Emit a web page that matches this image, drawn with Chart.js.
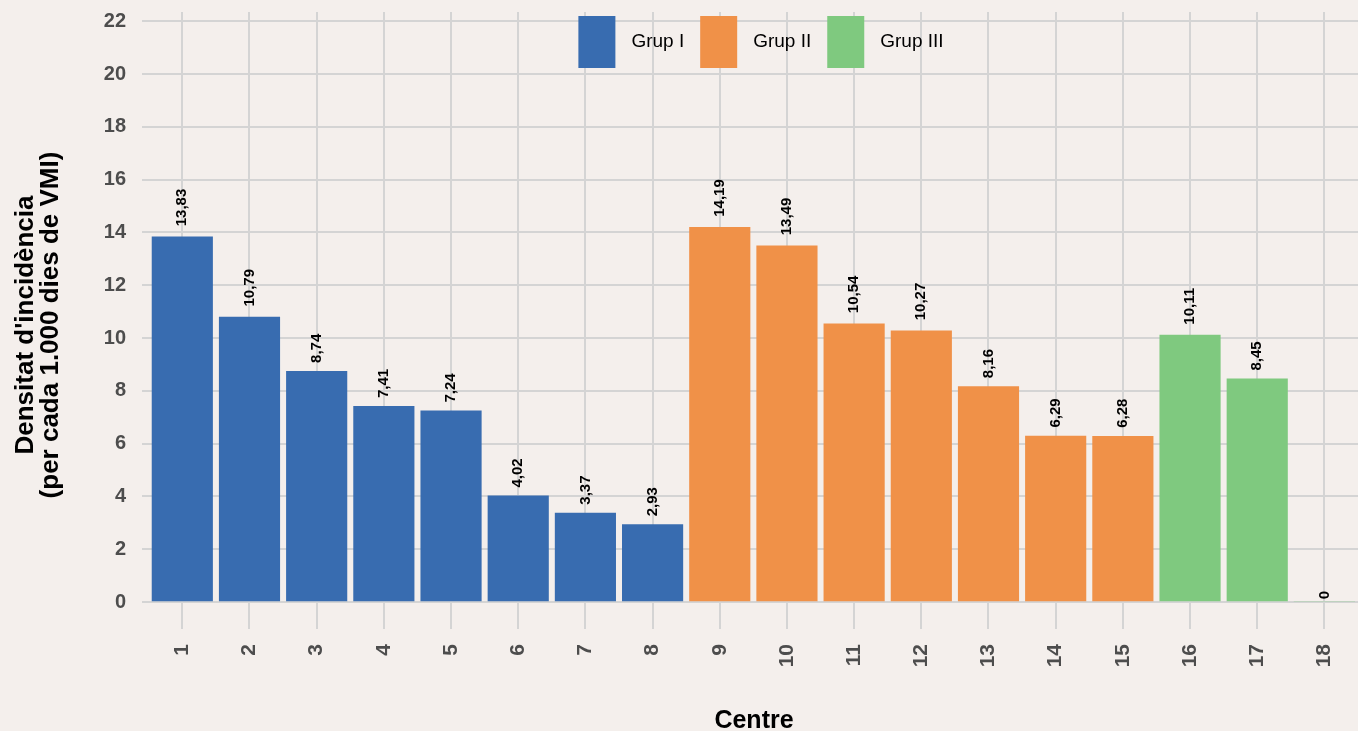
<!DOCTYPE html>
<html lang="ca">
<head>
  <meta charset="UTF-8" />
  <title>Densitat d'incidència per centre</title>
  <script src="https://cdn.jsdelivr.net/npm/chart.js"></script>
  <style>
    html, body { margin: 0; padding: 0; background: #f4efec; }
    #wrap { width: 1358px; height: 731px; position: relative; }
  </style>
</head>
<body>
  <div id="wrap"><canvas id="chart"></canvas></div>

  <script>
    // dades llegides del gràfic
    const centres = [1, 2, 3, 4, 5, 6, 7, 8, 9, 10, 11, 12, 13, 14, 15, 16, 17, 18];
    const densitat = [13.83, 10.79, 8.74, 7.41, 7.24, 4.02, 3.37, 2.93, 14.19, 13.49, 10.54, 10.27, 8.16, 6.29, 6.28, 10.11, 8.45, 0];
    const grupCentre = ['Grup I', 'Grup I', 'Grup I', 'Grup I', 'Grup I', 'Grup I', 'Grup I', 'Grup I',
                        'Grup II', 'Grup II', 'Grup II', 'Grup II', 'Grup II', 'Grup II', 'Grup II',
                        'Grup III', 'Grup III', 'Grup III'];
    const grups = ['Grup I', 'Grup II', 'Grup III'];
    const yTicks = [0, 2, 4, 6, 8, 10, 12, 14, 16, 18, 20, 22];

    const colors = { 'Grup I': '#386cb0', 'Grup II': '#f09148', 'Grup III': '#7fc97f' };
    const gridColor = '#d4d4d4';
    const tickColor = '#4d4d4d';

    const datasets = grups.map(g => ({
      label: g,
      data: centres
        .map((c, i) => ({ x: c, y: densitat[i], g: grupCentre[i] }))
        .filter(p => p.g === g),
      backgroundColor: colors[g],
      borderWidth: 0,
      barThickness: 60.5,
      grouped: false
    }));

    const fmt = v => String(v).replace('.', ',');

    // etiquetes de valor girades sobre cada barra
    const valueLabels = {
      id: 'valueLabels',
      afterDatasetsDraw(chart) {
        const ctx = chart.ctx;
        ctx.save();
        ctx.font = 'bold 15px "Liberation Sans", Arial, sans-serif';
        ctx.fillStyle = '#000';
        ctx.textAlign = 'left';
        ctx.textBaseline = 'middle';
        chart.data.datasets.forEach((ds, di) => {
          chart.getDatasetMeta(di).data.forEach((bar, i) => {
            const txt = fmt(ds.data[i].y);
            const w = ctx.measureText(txt).width;
            ctx.save();
            ctx.translate(bar.x, bar.y - 0.27 * w - 0.5);
            ctx.rotate(-Math.PI / 2);
            ctx.fillText(txt, 0, 0);
            ctx.restore();
          });
        });
        ctx.restore();
      }
    };

    // llegenda i títols d'eixos
    const extras = {
      id: 'extras',
      afterDraw(chart) {
        const ctx = chart.ctx;
        ctx.save();

        // llegenda dins del panell
        ctx.font = '19px "Liberation Sans", Arial, sans-serif';
        const boxW = 37, boxH = 52, gap = 16;
        const items = chart.data.datasets.map(ds => ({ label: ds.label, color: ds.backgroundColor, w: ctx.measureText(ds.label).width }));
        const total = items.reduce((s, it) => s + boxW + gap + it.w, 0) + gap * (items.length - 1);
        let x = 761 - total / 2;
        items.forEach(it => {
          ctx.fillStyle = it.color;
          ctx.fillRect(x, 16, boxW, boxH);
          ctx.fillStyle = '#000';
          ctx.textAlign = 'left';
          ctx.textBaseline = 'middle';
          ctx.fillText(it.label, x + boxW + gap, 42);
          x += boxW + gap + it.w + gap;
        });

        // títol eix y
        ctx.fillStyle = '#000';
        ctx.font = 'bold 26px "Liberation Sans", Arial, sans-serif';
        ctx.textAlign = 'center';
        ctx.textBaseline = 'alphabetic';
        [["Densitat d'incidència", 33], ['(per cada 1.000 dies de VMI)', 58]].forEach(([t, bx]) => {
          ctx.save();
          ctx.translate(bx, 325);
          ctx.rotate(-Math.PI / 2);
          ctx.fillText(t, 0, 0);
          ctx.restore();
        });

        // títol eix x
        ctx.font = 'bold 25px "Liberation Sans", Arial, sans-serif';
        ctx.fillText('Centre', 754, 728);
        ctx.restore();
      }
    };

    new Chart(document.getElementById('chart'), {
      type: 'bar',
      data: { datasets },
      options: {
        responsive: true,
        maintainAspectRatio: false,
        animation: false,
        layout: { padding: { top: 12, left: 0, right: 0, bottom: 0 } },
        plugins: {
          legend: { display: false },
          tooltip: { enabled: false }
        },
        scales: {
          x: {
            type: 'linear',
            min: 0.4,
            max: 18.5,
            offset: false,
            afterFit: s => { s.height = 129; s.paddingLeft = 0; s.paddingRight = 0; },
            afterBuildTicks: s => { s.ticks = centres.map(v => ({ value: v })); },
            border: { display: false },
            grid: { color: gridColor, lineWidth: 2, tickLength: 27, drawTicks: true, offset: false },
            ticks: {
              autoSkip: false,
              minRotation: 90,
              maxRotation: 90,
              padding: 15,
              color: tickColor,
              font: { family: '"Liberation Sans", Arial, sans-serif', size: 21, weight: 'bold' },
              callback: v => String(v)
            }
          },
          y: {
            min: 0,
            max: 22.35,
            afterFit: s => { s.width = 142; s.paddingTop = 0; s.paddingBottom = 0; },
            afterBuildTicks: s => { s.ticks = yTicks.map(v => ({ value: v })); },
            border: { display: false },
            grid: { color: gridColor, lineWidth: 2, drawTicks: false },
            ticks: {
              padding: 16,
              color: tickColor,
              font: { family: '"Liberation Sans", Arial, sans-serif', size: 20, weight: 'bold' },
              callback: v => String(v)
            }
          }
        }
      },
      plugins: [valueLabels, extras]
    });
  </script>
</body>
</html>
